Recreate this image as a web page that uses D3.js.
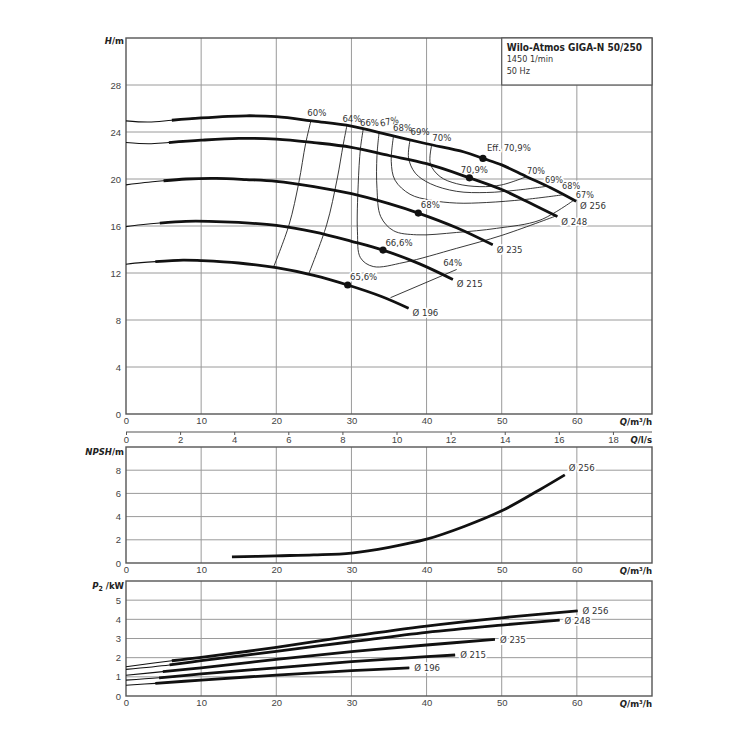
<!DOCTYPE html>
<html lang="en">
<head>
<meta charset="utf-8">
<title>Wilo-Atmos GIGA-N 50/250</title>
<script src="https://cdn.jsdelivr.net/npm/d3@7"></script>
<style>
	body { margin: 0; background: #fff; }
	svg { font-family: "Liberation Sans Narrow", "DejaVu Sans Condensed", sans-serif; }
	.tick text { fill: #444; font-size: 9.5px; }
	.bold { font-family: "DejaVu Sans Condensed", "DejaVu Sans", sans-serif; font-weight: bold; }
</style>
</head>
<body>
<script>
var w = 750, h = 750;
var left = 126, right = 652;

// axis ticks
var qTicks = [0, 10, 20, 30, 40, 50, 60];
var lsTicks = [0, 2, 4, 6, 8, 10, 12, 14, 16, 18];
var hTicks = [0, 4, 8, 12, 16, 20, 24, 28];
var npshTicks = [0, 2, 4, 6, 8];
var pTicks = [0, 1, 2, 3, 4, 5];

// impeller diameters
var diameters = ["Ø 256", "Ø 248", "Ø 235", "Ø 215", "Ø 196"];

// H(Q) curves, [Q m3/h, H m]
var headCurves = [
	[[0, 24.95], [3, 24.85], [6.1, 25.0], [10, 25.2], [16, 25.38], [20, 25.3], [25, 24.92], [30, 24.5], [35, 23.75], [40, 23.0], [45, 22.3], [47.5, 21.75], [50, 21.2], [53.3, 20.2], [56.5, 19.25], [59.9, 18.1]],
	[[0, 23.1], [3, 23.0], [5.7, 23.1], [10, 23.3], [15, 23.45], [20, 23.4], [25, 23.1], [30, 22.7], [35, 22.0], [40, 21.3], [45.7, 20.1], [50, 19.1], [53.3, 18.1], [57.4, 16.8]],
	[[0, 19.5], [2.5, 19.7], [5, 19.85], [8, 20.0], [12, 20.05], [16, 19.95], [20, 19.8], [25, 19.35], [30, 18.75], [35, 17.9], [38.9, 17.1], [44, 15.85], [48.8, 14.4]],
	[[0, 15.95], [2, 16.1], [4.5, 16.25], [8, 16.4], [11, 16.4], [15, 16.3], [20, 16.05], [25, 15.5], [30, 14.7], [34.2, 13.95], [39, 12.8], [43.5, 11.45]],
	[[0, 12.75], [2, 12.88], [3.9, 12.97], [7.6, 13.1], [10, 13.05], [15, 12.85], [20, 12.45], [25, 11.8], [29.5, 10.98], [34, 10.0], [37.6, 9.0]]
];
var headThickFrom = [6.1, 5.7, 5.0, 4.5, 3.9];

// best efficiency points
var bepPoints = [[47.5, 21.75], [45.7, 20.1], [38.9, 17.1], [34.2, 13.95], [29.5, 10.98]];
var bepLabels = ["Eff. 70,9%", "70,9%", "68%", "66,6%", "65,6%"];

// iso-efficiency lines
var effLabels = ["60%", "64%", "66%", "67%", "68%", "69%", "70%"];
var effLines = [
	[[24.6, 24.93], [23.9, 23.0], [23.0, 19.7], [21.7, 16.1], [19.6, 12.45]],
	[[29.4, 24.55], [28.9, 22.9], [28.1, 20.0], [26.7, 16.1], [24.3, 11.9]],
	[[31.6, 24.35], [31.2, 22.6], [30.9, 19.5], [30.8, 15.5], [31.2, 13.3], [32.9, 12.55], [37, 12.9], [44, 14.1], [50, 15.2], [57.2, 16.85]],
	[[33.7, 24.05], [33.4, 22.0], [33.4, 19.2], [33.9, 16.8], [35.6, 15.6], [38.7, 15.25], [44, 15.45], [49.3, 15.8], [55.1, 16.5], [59.6, 18.2]],
	[[35.6, 23.65], [35.3, 21.5], [35.8, 19.9], [37.8, 18.7], [40.5, 18.2], [44, 17.95], [48, 18.0], [53, 18.25], [58.1, 18.65]],
	[[37.8, 23.3], [37.6, 21.8], [38.5, 20.5], [40.5, 19.6], [44, 18.95], [48, 18.85], [52, 19.05], [55.9, 19.37]],
	[[40.7, 22.95], [40.5, 21.3], [41.8, 20.2], [44, 19.6], [47.1, 19.35], [50, 19.5], [53.3, 20.2]]
];
var effRight = [3, 4, 5, 6]; // lines labelled again at their right end
var eff64Lower = [[35.2, 9.9], [44, 12.3]];

// NPSH, Ø 256
var npshCurve = [[14.1, 0.52], [20, 0.62], [25, 0.7], [30, 0.86], [35, 1.35], [40, 2.05], [45, 3.15], [50, 4.5], [55, 6.3], [58.4, 7.6]];

// P2(Q) curves, kW
var powerCurves = [
	[[0, 1.53], [6.1, 1.84], [10, 2.01], [20, 2.54], [30, 3.12], [40, 3.65], [50, 4.08], [60.1, 4.44]],
	[[0, 1.39], [5.8, 1.62], [10, 1.84], [20, 2.33], [30, 2.83], [40, 3.32], [50, 3.7], [57.7, 3.96]],
	[[0, 1.08], [4.9, 1.27], [10, 1.47], [20, 1.91], [30, 2.31], [40, 2.66], [49.1, 2.95]],
	[[0, 0.83], [4.4, 0.95], [10, 1.15], [20, 1.47], [30, 1.79], [40, 2.05], [43.8, 2.14]],
	[[0, 0.56], [3.9, 0.66], [10, 0.83], [20, 1.09], [30, 1.32], [37.7, 1.47]]
];
var powerThickFrom = [6.1, 5.8, 4.9, 4.4, 3.9];

// scales
var x = d3.scaleLinear().domain([0, 70]).range([left, right]);
var xls = d3.scaleLinear().domain([0, 70 / 3.6]).range([left, right]);
var yH = d3.scaleLinear().domain([0, 32]).range([414, 38]);
var yN = d3.scaleLinear().domain([0, 10]).range([563, 447]);
var yP = d3.scaleLinear().domain([0, 6]).range([696, 581]);

var svg = d3.select("body").append("svg")
	.attr("width", w)
	.attr("height", h);

function halo(sel) {
	return sel.attr("stroke", "#fff").attr("stroke-width", 3.5)
		.attr("paint-order", "stroke").attr("stroke-linejoin", "round");
}

//panel: grid, frame, tick labels
function panel(y, yTicks) {
	var g = svg.append("g");
	var top = y.range()[1], bottom = y.range()[0];
	g.selectAll(".vg").data(qTicks.slice(1)).enter().append("line")
		.attr("x1", function(d) { return x(d); })
		.attr("x2", function(d) { return x(d); })
		.attr("y1", top).attr("y2", bottom)
		.attr("stroke", "#9a9a9a").attr("stroke-width", 1);
	g.selectAll(".hg").data(yTicks.slice(1)).enter().append("line")
		.attr("x1", left).attr("x2", right)
		.attr("y1", function(d) { return y(d); })
		.attr("y2", function(d) { return y(d); })
		.attr("stroke", "#9a9a9a").attr("stroke-width", 1);
	g.append("rect")
		.attr("x", left).attr("y", top)
		.attr("width", right - left).attr("height", bottom - top)
		.attr("fill", "none").attr("stroke", "#555").attr("stroke-width", 1.4);
	var ya = g.append("g").attr("transform", "translate(" + left + ",0)")
		.call(d3.axisLeft(y).tickValues(yTicks).tickFormat(d3.format("d")).tickSize(0).tickPadding(5));
	ya.select(".domain").remove();
	var xa = g.append("g").attr("transform", "translate(0," + bottom + ")")
		.call(d3.axisBottom(x).tickValues(qTicks).tickSize(0).tickPadding(3));
	xa.select(".domain").remove();
	g.append("text")
		.attr("class", "bold")
		.attr("x", right).attr("y", bottom + 11)
		.attr("text-anchor", "end")
		.attr("font-size", "9.5px").attr("fill", "#222")
		.html("<tspan font-style='italic'>Q</tspan>/m³/h");
	return g;
}

function yTitle(y, parts) {
	var t = svg.append("text")
		.attr("class", "bold")
		.attr("x", left - 2).attr("y", y)
		.attr("text-anchor", "end")
		.attr("font-size", "9.5px").attr("fill", "#222");
	parts.forEach(function(p) {
		var s = t.append("tspan").text(p[0]);
		if (p[1] == "i") s.attr("font-style", "italic");
		if (p[1] == "sub") s.attr("font-size", "7px").attr("dy", 2);
		if (p[1] == "up") s.attr("dy", -2);
	});
}

// ---------- top panel: H ----------
panel(yH, hTicks);

// title box
svg.append("rect")
	.attr("x", x(50)).attr("y", yH(32))
	.attr("width", x(70) - x(50)).attr("height", yH(28) - yH(32))
	.attr("fill", "#fff").attr("stroke", "#555").attr("stroke-width", 1.2);
svg.append("text").attr("class", "bold").attr("x", x(50) + 5).attr("y", yH(32) + 13)
	.attr("font-size", "10px").attr("fill", "#222")
	.text("Wilo-Atmos GIGA-N 50/250");
svg.append("text").attr("x", x(50) + 5).attr("y", yH(32) + 24)
	.attr("font-size", "9px").attr("fill", "#333").text("1450 1/min");
svg.append("text").attr("x", x(50) + 5).attr("y", yH(32) + 36)
	.attr("font-size", "9px").attr("fill", "#333").text("50 Hz");

yTitle(yH(32) + 6, [["H", "i"], ["/m", ""]]);

var lineH = d3.line()
	.x(function(d) { return x(d[0]); })
	.y(function(d) { return yH(d[1]); })
	.curve(d3.curveCatmullRom.alpha(0.5));

//efficiency lines
svg.selectAll(".eff").data(effLines).enter().append("path")
	.attr("d", lineH)
	.attr("fill", "none").attr("stroke", "#222").attr("stroke-width", 0.9);
svg.append("path").attr("d", lineH(eff64Lower))
	.attr("fill", "none").attr("stroke", "#222").attr("stroke-width", 0.9);

var effText = svg.append("g").attr("font-size", "9.5px").attr("fill", "#333");
var leftDx = [6, 5, 6, 10, 9, 10, 10], leftDy = [-8, -7, -5, -10, -8, -9, -7];
effText.selectAll(".el").data(effLines).enter().append("text")
	.attr("transform", function(d, i) {
		var tx = x(d[0][0]) + leftDx[i], ty = yH(d[0][1]) + leftDy[i];
		return "translate(" + tx + "," + ty + ")" + (i == 3 ? " rotate(-12)" : "");
	})
	.attr("dy", "0.35em")
	.attr("text-anchor", "middle")
	.text(function(d, i) { return effLabels[i]; });
// offsets for 67%, 68%, 69%, 70% at the right ends
var rightDx = [11, 8.5, 8, 9.5], rightDy = [-5.7, -9.5, -7, -5.5];
effText.selectAll(".er").data(effRight).enter().append("text")
	.attr("x", function(i, k) { var p = effLines[i][effLines[i].length - 1]; return x(p[0]) + rightDx[k]; })
	.attr("y", function(i, k) { var p = effLines[i][effLines[i].length - 1]; return yH(p[1]) + rightDy[k]; })
	.attr("dy", "0.35em")
	.attr("text-anchor", "middle")
	.attr("font-size", "9px")
	.call(halo)
	.text(function(i) { return effLabels[i]; });
effText.append("text")
	.attr("x", x(eff64Lower[1][0]) - 4).attr("y", yH(eff64Lower[1][1]) - 3)
	.attr("text-anchor", "middle")
	.call(halo)
	.text("64%");

//BEP labels
var bepDx = [4, 5, 12, 16, 16], bepDy = [-7, -5, -5, -4, -5];
effText.selectAll(".bl").data(bepPoints).enter().append("text")
	.attr("x", function(d, i) { return x(d[0]) + bepDx[i]; })
	.attr("y", function(d, i) { return yH(d[1]) + bepDy[i]; })
	.attr("text-anchor", function(d, i) { return i == 0 ? "start" : "middle"; })
	.call(halo)
	.text(function(d, i) { return bepLabels[i]; });

//diameter labels
effText.selectAll(".dl").data(headCurves).enter().append("text")
	.attr("x", function(d) { return x(d[d.length - 1][0]) + 4; })
	.attr("y", function(d) { return yH(d[d.length - 1][1]) + 8; })
	.call(halo)
	.text(function(d, i) { return diameters[i]; });

//head curves: thin start, thick rest
svg.selectAll(".hthin").data(headCurves).enter().append("path")
	.attr("d", lineH)
	.attr("fill", "none").attr("stroke", "#111").attr("stroke-width", 1.1);
svg.selectAll(".hthick").data(headCurves).enter().append("path")
	.attr("d", function(d, i) {
		return lineH(d.filter(function(p) { return p[0] >= headThickFrom[i]; }));
	})
	.attr("fill", "none").attr("stroke", "#111").attr("stroke-width", 2.8)
	.attr("stroke-linecap", "butt");
svg.selectAll(".bep").data(bepPoints).enter().append("circle")
	.attr("cx", function(d) { return x(d[0]); })
	.attr("cy", function(d) { return yH(d[1]); })
	.attr("r", 3.6).attr("fill", "#111");

// ---------- l/s axis ----------
var lsAxis = svg.append("g").attr("transform", "translate(0,432)")
	.call(d3.axisBottom(xls).tickValues(lsTicks).tickSize(3).tickPadding(1).tickSizeOuter(0));
lsAxis.select(".domain").attr("d", "M" + left + ",0H" + right).attr("stroke", "#555").attr("stroke-width", 1.2);
lsAxis.selectAll(".tick line").attr("stroke", "#555");
svg.append("text")
	.attr("class", "bold")
	.attr("x", right).attr("y", 443)
	.attr("text-anchor", "end")
	.attr("font-size", "9.5px").attr("fill", "#222")
	.html("<tspan font-style='italic'>Q</tspan>/l/s");

// ---------- NPSH panel ----------
panel(yN, npshTicks);
yTitle(yN(10) + 8, [["NPSH", "i"], ["/m", ""]]);
var lineN = d3.line()
	.x(function(d) { return x(d[0]); })
	.y(function(d) { return yN(d[1]); })
	.curve(d3.curveCatmullRom.alpha(0.5));
svg.append("path").attr("d", lineN(npshCurve))
	.attr("fill", "none").attr("stroke", "#111").attr("stroke-width", 2.8);
svg.append("text")
	.attr("x", x(npshCurve[npshCurve.length - 1][0]) + 4)
	.attr("y", yN(npshCurve[npshCurve.length - 1][1]) - 3.5)
	.attr("font-size", "9.5px").attr("fill", "#333")
	.call(halo)
	.text(diameters[0]);

// ---------- power panel ----------
panel(yP, pTicks);
yTitle(yP(6) + 8, [["P", "i"], ["2", "sub"], [" /kW", "up"]]);
var lineP = d3.line()
	.x(function(d) { return x(d[0]); })
	.y(function(d) { return yP(d[1]); })
	.curve(d3.curveCatmullRom.alpha(0.5));
svg.selectAll(".pl").data(powerCurves).enter().append("text")
	.attr("x", function(d) { return x(d[d.length - 1][0]) + 5; })
	.attr("y", function(d) { return yP(d[d.length - 1][1]) + 3.5; })
	.attr("font-size", "9.5px").attr("fill", "#333")
	.call(halo)
	.text(function(d, i) { return diameters[i]; });
svg.selectAll(".pthin").data(powerCurves).enter().append("path")
	.attr("d", lineP)
	.attr("fill", "none").attr("stroke", "#111").attr("stroke-width", 1.1);
svg.selectAll(".pthick").data(powerCurves).enter().append("path")
	.attr("d", function(d, i) {
		return lineP(d.filter(function(p) { return p[0] >= powerThickFrom[i]; }));
	})
	.attr("fill", "none").attr("stroke", "#111").attr("stroke-width", 2.8);
</script>
</body>
</html>
